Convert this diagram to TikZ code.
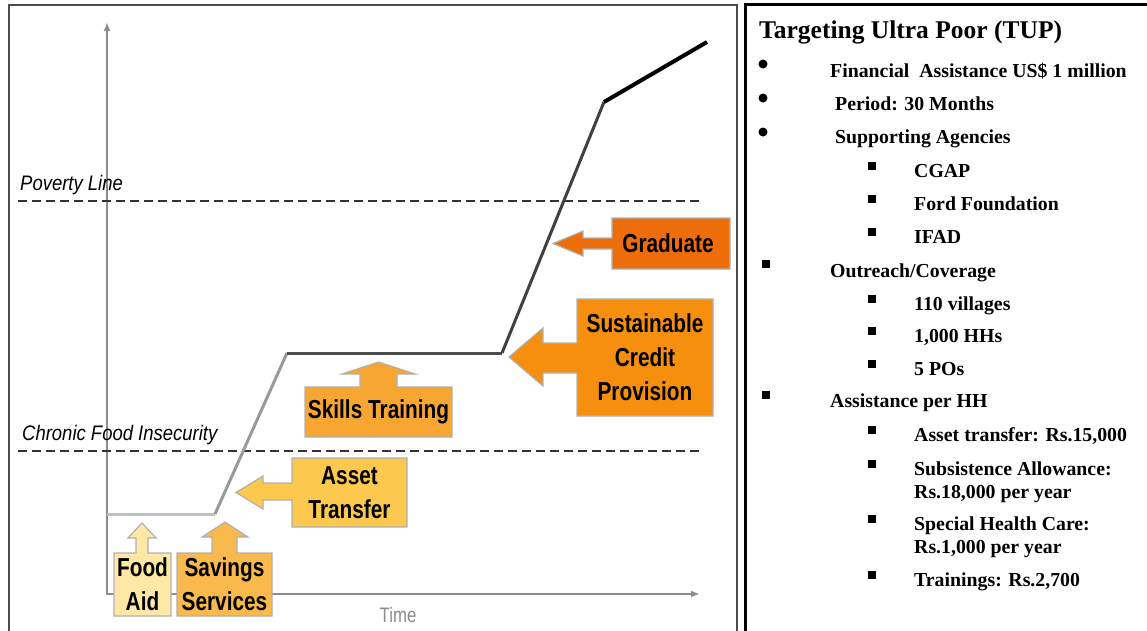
\documentclass[tikz,border=0pt]{standalone}
\usepackage{fontspec}
\usepackage{xcolor}
\usetikzlibrary{arrows.meta}
\setmainfont{Liberation Serif}
\newfontfamily\narrowsans[FakeStretch=0.8]{Liberation Sans}
\newfontfamily\labelsans[FakeStretch=0.88]{Liberation Sans}

\definecolor{aidyellow}{HTML}{FFE8A6}
\definecolor{saveorange}{HTML}{F9B94C}
\definecolor{assetyellow}{HTML}{FDC84E}
\definecolor{skillorange}{HTML}{F8A632}
\definecolor{creditorange}{HTML}{F78F0E}
\definecolor{gradorange}{HTML}{EE6D0B}
\definecolor{calloutedge}{HTML}{B0B0B0}

\begin{document}
\begin{tikzpicture}[x=1pt,y=-1pt,
  callout/.style={draw=calloutedge,line width=1.2pt},
  boxtext/.style={font=\narrowsans\bfseries\fontsize{26}{34}\selectfont,align=center,inner sep=0pt},
  levellabel/.style={font=\labelsans\itshape\fontsize{21}{24}\selectfont,anchor=base west,inner sep=0pt},
  levelline/.style={dashed,dash pattern=on 9pt off 5pt,line width=2pt,black!80},
  axis/.style={line width=2pt,black!45,{Latex[length=9pt,width=7pt]}-{Latex[length=9pt,width=7pt]}},
  path/.style={line width=3pt,line join=round},
  item/.style={font=\bfseries\fontsize{19.8}{23}\selectfont,anchor=base west,inner sep=0pt,align=left},
  dotbullet/.style={circle,fill=black,inner sep=0pt,minimum size=9pt},
  sqbullet/.style={fill=black,inner sep=0pt,minimum size=8pt}]
\useasboundingbox (0,0) rectangle (1147,630);

% frames
\draw[black!70,line width=1.5pt] (9,632) |- (737,5) -- (737,632);
\draw[black,line width=3pt] (745.5,632) |- (1150,4.5);

% axes
\coordinate (origin) at (107,594);
\coordinate (ytop) at (107,22);
\coordinate (xend) at (700,594);
\draw[axis] (ytop) -- (origin) -- (xend);
\node[font=\narrowsans\fontsize{21}{24}\selectfont,text=black!45,anchor=base,inner sep=0pt] (time) at (398,622) {Time};

% threshold lines
\draw[levelline] (18,201) -- (703,201);
\draw[levelline] (18,451) -- (703,451);
\node[levellabel] (povline) at (20,190) {Poverty Line};
\node[levellabel] (chronic) at (22,440) {Chronic Food Insecurity};

% household path
\coordinate (p0) at (107,514);
\coordinate (p1) at (215,514);
\coordinate (p2) at (287,353);
\coordinate (p3) at (502,353);
\coordinate (p4) at (604,102);
\coordinate (p5) at (707,42);
\draw[path,black!25] (p0) -- (p1);
\draw[path,black!40] (p1) -- (p2);
\draw[path,black!70] (p2) -- (p3);
\draw[path,black!75] (p3) -- (p4);
\draw[path,black,line width=4pt] (p4) -- (p5);

% up callouts
\filldraw[callout,fill=aidyellow] (114,616) -- (114,553) -- (136,553) -- (136,538) -- (128,538) -- (142,523)
  -- (156,538) -- (148,538) -- (148,553) -- (171,553) -- (171,616) -- cycle;
\node[boxtext] (foodaid) at (142.5,584.5) {Food\\Aid};
\filldraw[callout,fill=saveorange] (177,616) -- (177,553) -- (212,553) -- (212,537) -- (202,537) -- (225,522)
  -- (248,537) -- (237,537) -- (237,553) -- (272,553) -- (272,616) -- cycle;
\node[boxtext] (savings) at (224.5,584.5) {Savings\\Services};
\filldraw[callout,fill=skillorange] (305,437) -- (305,387) -- (360,387) -- (360,374) -- (342,374) -- (378.5,362)
  -- (415,374) -- (397,374) -- (397,387) -- (452,387) -- (452,437) -- cycle;
\node[boxtext] (skills) at (378.5,412) {Skills Training};

% left callouts
\filldraw[callout,fill=assetyellow] (407,458) -- (292,458) -- (292,483) -- (263,483) -- (263,476) -- (236,492.5)
  -- (263,509) -- (263,500) -- (292,500) -- (292,527) -- (407,527) -- cycle;
\node[boxtext] (asset) at (349.5,492.5) {Asset\\Transfer};
\filldraw[callout,fill=creditorange] (713,299) -- (577,299) -- (577,343) -- (543,343) -- (543,328) -- (509,357)
  -- (543,386) -- (543,373) -- (577,373) -- (577,416) -- (713,416) -- cycle;
\node[boxtext] (credit) at (645,357.5) {Sustainable\\Credit\\Provision};
\filldraw[callout,fill=gradorange] (730,218) -- (612,218) -- (612,238) -- (583,238) -- (583,231) -- (553,243.5)
  -- (583,256) -- (583,249) -- (612,249) -- (612,269) -- (730,269) -- cycle;
\node[boxtext] (graduate) at (668,243.5) {Graduate};

% programme summary
\node[item,font=\bfseries\fontsize{25.5}{30}\selectfont] (tup) at (759,38) {Targeting Ultra Poor (TUP)};
\node[dotbullet] (b1) at (763,64) {};
\node[item] (fin) at (830,77) {Financial\ \ Assistance US\$ 1 million};
\node[dotbullet] (b2) at (763,98) {};
\node[item] (period) at (835,110) {Period: 30 Months};
\node[dotbullet] (b3) at (763,132) {};
\node[item] (agencies) at (835,143) {Supporting Agencies};
\node[sqbullet] (s1) at (872,166) {};
\node[item] (cgap) at (914,177) {CGAP};
\node[sqbullet] (s2) at (872,199) {};
\node[item] (ford) at (914,210) {Ford Foundation};
\node[sqbullet] (s3) at (872,232) {};
\node[item] (ifad) at (914,243) {IFAD};
\node[sqbullet] (b4) at (766,264) {};
\node[item] (outreach) at (830,277) {Outreach/Coverage};
\node[sqbullet] (s4) at (872,299) {};
\node[item] (villages) at (914,310) {110 villages};
\node[sqbullet] (s5) at (872,331) {};
\node[item] (hhs) at (914,342) {1,000 HHs};
\node[sqbullet] (s6) at (872,364) {};
\node[item] (pos) at (914,375) {5 POs};
\node[sqbullet] (b5) at (766,395) {};
\node[item] (perhh) at (830,407) {Assistance per HH};
\node[sqbullet] (s7) at (872,430) {};
\node[item] (transfer) at (914,441) {Asset transfer: Rs.15,000};
\node[sqbullet] (s8) at (872,464) {};
\node[item] (subsist) at (914,498) {Subsistence Allowance:\\Rs.18,000 per year};
\node[sqbullet] (s9) at (872,519) {};
\node[item] (health) at (914,553) {Special Health Care:\\Rs.1,000 per year};
\node[sqbullet] (s10) at (872,575) {};
\node[item] (trainings) at (914,586) {Trainings: Rs.2,700};
\end{tikzpicture}
\end{document}
